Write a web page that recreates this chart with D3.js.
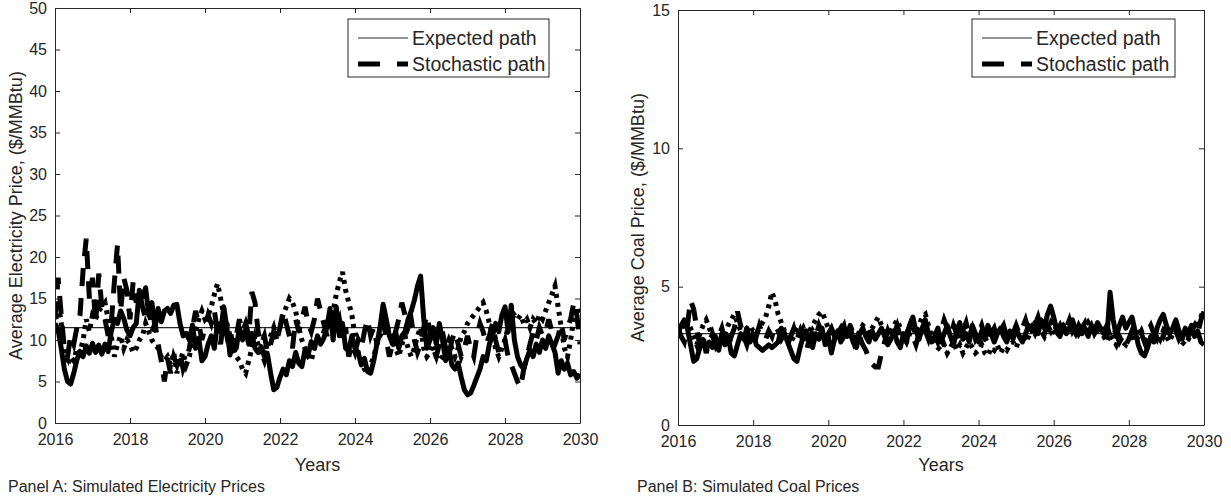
<!DOCTYPE html>
<html><head><meta charset="utf-8">
<script src="https://cdn.jsdelivr.net/npm/d3@7"></script>
<style>
body{margin:0;background:#fff}
text{font-family:"Liberation Sans",Arial,sans-serif;fill:#262626}
</style>
</head><body>
<svg id="c" width="1231" height="500"></svg>
<script>
// ---------- DATA (monthly, Jan 2016 .. Jan 2030) ----------
const startYear = 2016, endYear = 2030;
const xTickYears = [2016,2018,2020,2022,2024,2026,2028,2030];
const elecYTicks = [0,5,10,15,20,25,30,35,40,45,50];
const coalYTicks = [0,5,10,15];
const legendLabels = ["Expected path","Stochastic path"];

const elecExpected = 11.5;
const coalExpected = 3.3;

const elecSolid = [
 12.0,11.2,9.0,6.5,5.0,4.7,6.0,7.6,8.6,8.0,9.3,8.4,
 9.6,8.5,9.4,8.3,9.5,8.6,11.0,12.5,12.0,13.5,12.6,11.2,
 10.5,11.5,12.0,16.0,15.2,16.3,13.0,14.5,11.5,13.8,12.2,13.5,
 13.8,13.2,14.2,14.3,12.0,10.5,10.8,10.0,11.8,9.0,10.2,7.5,
 8.0,9.5,10.5,9.0,12.0,11.0,14.0,11.5,8.2,10.0,9.0,11.5,
 10.0,11.2,9.5,10.8,9.0,8.5,9.2,8.0,8.3,6.0,4.0,4.3,
 5.5,6.5,5.8,7.5,6.8,8.5,7.2,6.8,8.8,8.2,9.8,9.0,
 10.5,9.5,10.2,11.5,13.8,10.0,14.0,10.5,12.0,9.0,8.7,10.5,
 9.0,8.5,7.0,7.8,6.2,6.0,7.5,9.5,11.5,14.3,12.5,10.5,
 9.5,11.0,9.0,10.5,11.0,12.5,13.5,14.8,16.5,17.7,12.5,9.0,
 10.0,11.5,9.5,12.0,10.0,7.5,9.0,7.0,6.5,7.2,5.5,4.0,
 3.4,3.6,4.5,5.5,6.5,8.0,7.5,9.5,10.5,12.0,11.0,13.0,
 14.0,11.0,14.2,10.0,8.0,7.0,6.5,7.8,8.8,8.0,9.5,8.5,
 10.0,9.0,10.5,9.5,8.5,6.0,7.5,6.5,7.2,5.8,6.2,5.4,
 5.9];

const elecDashed = [
 12.5,17.5,13.0,9.0,8.0,10.5,9.5,11.5,13.0,18.5,22.2,15.0,
 17.5,12.0,18.0,14.0,12.5,10.5,12.0,17.0,21.5,13.5,17.5,16.0,
 12.5,17.0,14.5,16.0,14.0,12.5,14.0,11.0,12.0,9.5,7.5,5.0,
 7.8,6.0,8.0,7.0,8.5,6.5,7.5,9.0,11.5,13.5,12.0,10.0,
 11.5,13.0,12.0,13.5,11.0,9.5,12.5,10.5,11.5,9.0,10.5,12.5,
 11.0,12.0,10.5,15.8,14.5,11.0,9.5,10.5,8.5,9.5,11.0,10.0,
 11.5,13.5,12.0,10.5,9.0,12.5,11.0,12.5,14.0,12.0,11.0,12.5,
 15.0,13.5,12.0,10.5,12.0,13.5,11.5,12.5,10.0,11.5,8.0,9.5,
 8.5,10.0,9.0,11.0,12.5,10.5,11.5,9.5,11.0,12.5,10.0,8.0,
 9.5,11.0,12.5,14.5,13.0,11.5,12.5,10.0,8.5,9.5,11.5,13.0,
 11.0,9.0,8.0,9.5,11.0,9.0,8.0,10.0,11.0,9.5,8.0,9.0,
 10.5,9.0,8.0,10.5,12.0,11.0,9.5,10.5,12.0,10.0,8.5,9.0,
 10.0,8.0,7.0,6.0,5.0,4.3,6.5,8.0,9.5,11.0,10.0,11.5,
 10.5,11.0,12.5,11.0,9.5,10.5,12.0,10.0,11.5,12.5,14.5,13.0,
 9.5];

const elecDotted = [
 11.5,14.5,12.0,8.5,7.0,8.0,7.5,9.0,8.5,10.0,12.5,11.0,
 13.0,12.5,13.5,14.0,14.5,12.5,10.5,8.0,9.5,10.5,9.0,10.0,
 9.5,8.5,9.0,10.0,10.5,12.0,11.0,10.0,9.5,9.0,8.0,7.5,
 8.0,7.0,8.5,6.0,7.5,8.5,7.0,8.0,10.0,11.0,12.5,13.5,
 12.5,13.0,14.0,15.5,16.8,15.0,13.0,12.0,10.5,9.0,8.0,7.5,
 6.5,6.0,7.5,9.0,10.5,9.5,8.5,7.5,9.0,10.5,11.5,10.0,
 11.5,13.0,14.0,15.0,14.5,13.5,11.5,10.0,9.0,8.0,7.5,9.0,
 10.0,9.5,11.0,12.0,11.5,13.5,15.5,17.0,18.2,16.0,14.5,13.0,
 10.5,8.5,7.5,6.5,6.0,7.0,8.0,9.5,10.5,11.5,12.0,11.0,
 10.0,9.0,8.0,9.5,10.5,9.0,8.0,9.0,10.5,11.5,9.0,8.0,
 8.5,9.5,8.0,7.5,8.0,9.0,10.0,9.0,8.0,9.0,10.5,11.0,
 12.0,12.5,13.0,13.5,14.0,14.5,13.5,12.0,10.5,9.0,8.0,9.0,
 10.0,11.5,12.5,13.0,12.5,13.0,12.0,12.5,11.5,12.5,12.0,13.0,
 12.5,13.5,14.5,15.5,16.5,14.0,11.5,9.0,8.0,10.0,12.5,14.0,
 13.0];

const coalSolid = [
 3.3,3.6,3.8,3.5,2.9,2.3,2.4,2.8,3.1,2.7,3.0,2.8,
 3.2,2.7,3.3,2.9,3.2,2.6,2.5,2.9,3.3,3.1,3.5,3.0,
 3.3,2.9,2.8,2.7,2.8,2.9,2.8,2.9,3.0,3.5,3.3,3.0,
 2.7,2.4,2.3,2.8,3.2,3.4,3.0,2.8,3.3,3.1,3.5,2.9,
 3.2,2.6,3.1,3.4,3.0,3.5,3.2,3.6,3.0,2.8,3.3,3.5,
 3.2,3.0,3.4,3.1,3.3,3.5,3.2,2.9,3.1,3.4,3.0,2.8,
 3.3,3.0,3.6,3.9,3.4,3.1,3.5,3.8,3.3,3.0,3.2,3.5,
 3.0,3.3,3.6,3.2,2.9,3.4,3.7,3.1,3.3,3.0,3.6,3.3,
 3.0,3.4,3.1,3.6,3.3,3.0,3.3,3.5,3.2,3.0,3.4,3.1,
 3.5,3.2,3.0,3.3,3.6,3.4,3.7,3.3,3.8,3.5,4.0,4.3,
 3.9,3.4,3.2,3.6,3.3,3.5,3.8,3.4,3.6,3.3,3.5,3.2,
 3.6,3.4,3.7,3.5,3.3,3.2,4.8,3.8,3.2,3.6,3.9,3.5,
 3.7,3.9,3.4,2.9,2.6,2.5,2.8,3.2,3.0,3.5,3.8,4.0,
 3.6,3.3,3.5,3.8,3.4,3.1,3.5,3.3,3.6,3.2,3.4,3.0,
 2.9];

const coalDashed = [
 3.5,3.2,3.0,3.6,4.5,4.2,3.5,2.8,3.2,2.6,3.0,3.3,
 2.9,3.2,3.5,3.0,2.8,3.2,3.5,4.1,3.6,3.2,2.9,3.3,
 3.5,3.2,3.6,3.3,3.1,3.4,3.2,3.6,3.4,3.1,3.3,2.9,
 3.2,3.5,3.1,3.4,3.0,2.7,3.1,3.4,3.2,3.6,3.3,3.0,
 3.3,3.5,3.2,3.0,3.4,3.6,3.1,3.3,3.0,3.4,3.2,2.9,
 2.7,2.4,2.2,2.1,2.1,2.6,3.0,3.4,3.1,3.3,3.6,3.2,
 3.0,3.3,3.6,3.2,2.9,3.3,3.7,3.4,3.1,3.5,3.3,3.0,
 3.4,3.8,3.5,3.2,3.6,3.3,3.0,3.4,3.7,3.2,3.5,3.1,
 3.3,3.6,3.2,2.9,3.3,3.5,3.1,3.4,3.6,3.2,3.0,3.3,
 3.6,3.3,3.5,3.8,3.4,3.2,3.6,3.9,3.5,3.3,3.6,3.4,
 3.7,3.4,3.6,3.3,3.5,3.8,3.4,3.6,3.3,3.5,3.7,3.4,
 3.6,3.3,3.5,3.7,3.4,3.6,3.2,3.5,3.3,3.0,3.2,2.9,
 3.1,3.4,3.2,3.5,3.3,3.0,3.4,3.6,3.3,3.1,3.4,3.2,
 3.5,3.3,3.6,3.4,3.1,3.3,3.5,3.2,3.4,3.6,3.3,3.8,
 4.1];

const coalDotted = [
 3.2,3.4,3.7,3.8,3.5,3.2,2.9,3.3,3.6,3.8,3.5,3.2,
 3.0,2.8,3.1,3.3,3.6,3.8,4.0,3.7,3.4,3.2,3.5,3.6,
 3.4,3.3,3.5,3.7,3.9,4.3,4.8,4.5,4.0,3.7,3.4,3.2,
 3.0,3.2,3.4,3.3,3.5,3.2,3.4,3.6,3.8,4.0,4.1,3.8,
 3.5,3.3,3.1,3.3,3.5,3.2,3.4,3.6,3.3,3.1,3.4,3.6,
 3.5,3.3,3.5,3.7,3.9,3.6,3.3,3.1,3.4,3.6,3.8,3.5,
 3.2,3.0,3.3,3.5,3.3,3.6,3.9,4.0,3.6,3.2,3.0,2.8,
 2.7,2.9,2.6,2.8,3.0,2.7,2.9,2.6,2.8,3.0,2.8,2.6,
 2.7,2.9,2.6,2.5,2.8,2.7,2.9,2.6,2.8,2.7,2.9,3.0,
 2.8,3.1,3.3,3.0,3.2,3.5,3.3,3.6,3.4,3.2,3.5,3.7,
 3.4,3.2,3.5,3.6,3.4,3.7,3.5,3.3,3.6,3.4,3.5,3.7,
 3.5,3.3,3.4,3.6,3.2,3.0,3.3,3.1,2.9,3.2,3.0,2.9,
 3.1,3.3,3.0,3.2,3.4,3.1,2.9,3.2,3.0,3.3,3.1,3.4,
 3.2,3.0,3.3,3.5,3.2,3.0,2.9,3.1,3.3,3.5,3.6,3.9,
 4.2];

// ---------- DRAWING ----------
const svg = d3.select("#c");
const AX = "#262626";

const panels = [
  {x0:55, x1:580, y0:8, y1:423, yMax:50, yTicks:elecYTicks,
   ylabel:"Average Electricity Price, ($/MMBtu)", ylabX:16,
   caption:"Panel A: Simulated Electricity Prices", capX:8,
   legend:{x:348, y:19, w:201, h:58},
   expected:elecExpected, solid:elecSolid, dashed:elecDashed, dotted:elecDotted},
  {x0:678, x1:1204, y0:10, y1:425, yMax:15, yTicks:coalYTicks,
   ylabel:"Average Coal Price, ($/MMBtu)", ylabX:638,
   caption:"Panel B: Simulated Coal Prices", capX:637,
   legend:{x:972, y:19, w:203, h:58},
   expected:coalExpected, solid:coalSolid, dashed:coalDashed, dotted:coalDotted}
];

panels.forEach((p, pi) => {
  const x = d3.scaleLinear().domain([startYear, endYear]).range([p.x0, p.x1]);
  const y = d3.scaleLinear().domain([0, p.yMax]).range([p.y1, p.y0]);
  const g = svg.append("g");

  const clipId = "clip" + pi;
  svg.append("defs").append("clipPath").attr("id", clipId)
    .append("rect").attr("x", p.x0).attr("y", p.y0)
    .attr("width", p.x1 - p.x0).attr("height", p.y1 - p.y0);

  const plot = g.append("g").attr("clip-path", `url(#${clipId})`);
  const line = d3.line().x((d, i) => x(startYear + i / 12)).y(d => y(d));

  plot.append("line")
    .attr("x1", x(startYear)).attr("x2", x(endYear))
    .attr("y1", y(p.expected)).attr("y2", y(p.expected))
    .attr("stroke", AX).attr("stroke-width", 1.2);

  plot.append("path").datum(p.dotted).attr("d", line)
    .attr("fill", "none").attr("stroke", "#000").attr("stroke-width", 5)
    .attr("stroke-dasharray", "4,5");
  plot.append("path").datum(p.dashed).attr("d", line)
    .attr("fill", "none").attr("stroke", "#000").attr("stroke-width", 5)
    .attr("stroke-dasharray", "18,12");
  plot.append("path").datum(p.solid).attr("d", line)
    .attr("fill", "none").attr("stroke", "#000").attr("stroke-width", 5)
    .attr("stroke-linejoin", "round");

  const styleAxis = sel => {
    sel.selectAll("path,line").attr("stroke", AX).attr("stroke-width", 1);
    sel.selectAll("text").attr("fill", AX).style("font-size", "16px")
      .style("font-family", '"Liberation Sans",Arial,sans-serif');
  };
  g.append("g").attr("transform", `translate(0,${p.y1})`)
    .call(d3.axisBottom(x).tickValues(xTickYears).tickFormat(d3.format("d"))
      .tickSize(-5).tickSizeOuter(0).tickPadding(11)).call(styleAxis);
  g.append("g").attr("transform", `translate(0,${p.y0})`)
    .call(d3.axisTop(x).tickValues(xTickYears).tickFormat("")
      .tickSize(-5).tickSizeOuter(0)).call(styleAxis);
  g.append("g").attr("transform", `translate(${p.x0},0)`)
    .call(d3.axisLeft(y).tickValues(p.yTicks).tickFormat(d3.format("d"))
      .tickSize(-5).tickSizeOuter(0).tickPadding(8)).call(styleAxis);
  g.append("g").attr("transform", `translate(${p.x1},0)`)
    .call(d3.axisRight(y).tickValues(p.yTicks).tickFormat("")
      .tickSize(-5).tickSizeOuter(0)).call(styleAxis);

  g.append("text").attr("x", (p.x0 + p.x1) / 2).attr("y", 471)
    .attr("text-anchor", "middle").style("font-size", "18px").text("Years");
  g.append("text")
    .attr("transform", `translate(${p.ylabX},${(p.y0 + p.y1) / 2}) rotate(-90)`)
    .attr("text-anchor", "middle").attr("dy", "0.35em")
    .style("font-size", "18px").text(p.ylabel);
  g.append("text").attr("x", p.capX).attr("y", 492)
    .style("font-size", "16px").attr("fill", "#000").text(p.caption);

  const L = p.legend;
  const lg = g.append("g");
  lg.append("rect").attr("x", L.x).attr("y", L.y).attr("width", L.w).attr("height", L.h)
    .attr("fill", "#fff").attr("stroke", AX).attr("stroke-width", 1);
  const rows = [L.y + 19, L.y + 45];
  lg.append("line").attr("x1", L.x + 10).attr("x2", L.x + 60)
    .attr("y1", rows[0]).attr("y2", rows[0]).attr("stroke", AX).attr("stroke-width", 1.2);
  lg.append("line").attr("x1", L.x + 10).attr("x2", L.x + 60)
    .attr("y1", rows[1]).attr("y2", rows[1]).attr("stroke", "#000").attr("stroke-width", 5)
    .attr("stroke-dasharray", "22,17");
  legendLabels.forEach((t, i) => {
    lg.append("text").attr("x", L.x + 64).attr("y", rows[i]).attr("dy", "0.35em")
      .style("font-size", "19.5px").attr("fill", "#000").text(t);
  });
});
</script>
</body></html>
